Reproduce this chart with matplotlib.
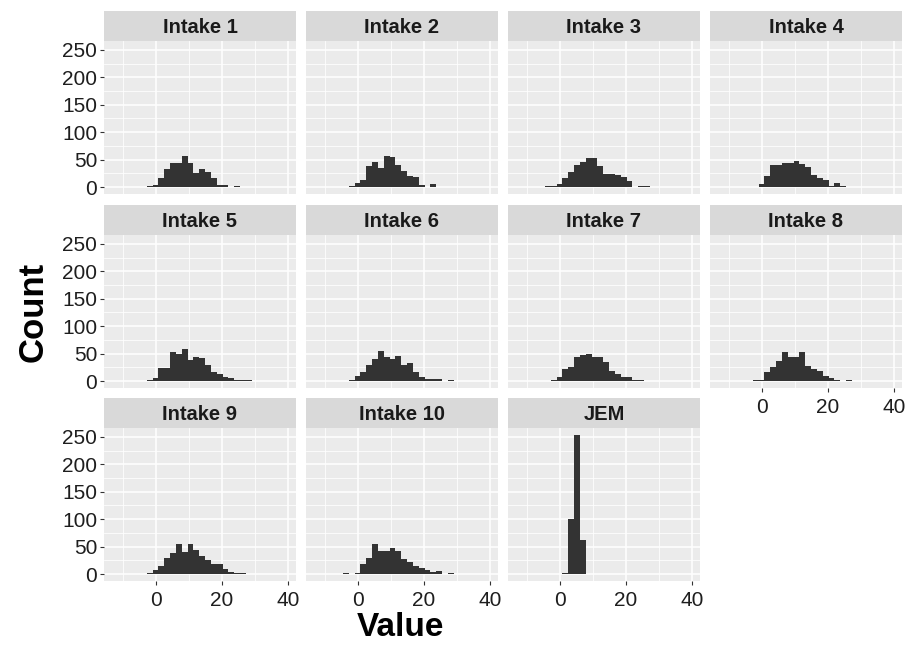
import numpy as np
import matplotlib
matplotlib.use('Agg')
import matplotlib.pyplot as plt

plt.rcParams['font.family'] = ['Liberation Sans', 'DejaVu Sans']

# histogram bins shared by every facet (30 bins over the full data range)
bin_start = -4.52
bin_width = 1.77
n_bins = 19

panel_names = ['Intake 1', 'Intake 2', 'Intake 3', 'Intake 4', 'Intake 5',
               'Intake 6', 'Intake 7', 'Intake 8', 'Intake 9', 'Intake 10', 'JEM']

intake1 = [0, 2, 3, 16, 32, 44, 44, 57, 43, 25, 33, 28, 16, 4, 4, 0, 1, 0, 0]
intake2 = [0, 1, 7, 13, 39, 45, 34, 57, 54, 40, 29, 20, 18, 4, 0, 6, 0, 0, 0]
intake3 = [1, 2, 5, 17, 28, 40, 46, 52, 52, 38, 23, 23, 22, 18, 11, 0, 1, 1, 0]
intake4 = [0, 0, 5, 20, 41, 40, 43, 44, 47, 42, 37, 21, 16, 12, 2, 8, 1, 0, 0]
intake5 = [0, 1, 6, 23, 23, 53, 50, 58, 38, 44, 42, 29, 16, 12, 8, 6, 2, 2, 2]
intake6 = [0, 2, 10, 16, 29, 41, 55, 43, 40, 46, 29, 32, 17, 7, 4, 4, 3, 0, 2]
intake7 = [0, 2, 7, 22, 26, 44, 48, 49, 43, 43, 34, 19, 12, 7, 8, 2, 2, 0, 0]
intake8 = [0, 1, 2, 16, 25, 37, 52, 44, 43, 52, 28, 22, 18, 10, 6, 2, 0, 1, 0]
intake9 = [0, 2, 8, 14, 29, 38, 54, 41, 54, 44, 32, 26, 18, 18, 10, 4, 1, 1, 0]
intake10 = [1, 0, 2, 18, 30, 55, 42, 42, 48, 42, 27, 21, 15, 11, 7, 3, 5, 0, 1]
jem = [0, 0, 0, 2, 100, 253, 62, 0, 0, 0, 0, 0, 0, 0, 0, 0, 0, 0, 0]

panel_counts = [intake1, intake2, intake3, intake4, intake5, intake6,
                intake7, intake8, intake9, intake10, jem]

x_ticks = [0, 20, 40]
y_ticks = [0, 50, 100, 150, 200, 250]

W, H = 907, 646
fig = plt.figure(figsize=(W / 100, H / 100), dpi=100)

col_left = [104, 306, 508, 710]
panel_w = 192
row_top = [41, 235, 428]
panel_h = 153
strip_h = 30

edges = bin_start + bin_width * np.arange(n_bins + 1)

for i, (name, counts) in enumerate(zip(panel_names, panel_counts)):
    r, c = divmod(i, 4)
    left = col_left[c] / W
    bottom = 1 - (row_top[r] + panel_h) / H
    ax = fig.add_axes([left, bottom, panel_w / W, panel_h / H])
    ax.set_facecolor('#EBEBEB')
    ax.bar(edges[:-1], counts, width=bin_width, align='edge',
           color='#333333', linewidth=0, zorder=3)
    ax.set_xlim(-15.7, 42.5)
    ax.set_ylim(-12.7, 266)
    ax.set_xticks(x_ticks)
    ax.set_xticks([-10, 10, 30], minor=True)
    ax.set_yticks(y_ticks)
    ax.set_yticks([25, 75, 125, 175, 225], minor=True)
    ax.grid(which='major', color='white', linewidth=1.1, zorder=0)
    ax.grid(which='minor', color='white', linewidth=0.55, zorder=0)
    for s in ax.spines.values():
        s.set_visible(False)
    ax.tick_params(which='minor', length=0)
    ax.tick_params(which='major', length=3, width=0.8, color='#333333',
                   labelsize=15, labelcolor='#1E1E1E', pad=2)
    ax.tick_params(axis='x', pad=4)

    show_x = (r == 2) or (r == 1 and c == 3)
    if not show_x:
        ax.tick_params(axis='x', length=0, labelbottom=False)
    if c != 0:
        ax.tick_params(axis='y', length=0, labelleft=False)

    # facet strip
    sax = fig.add_axes([left, 1 - row_top[r] / H, panel_w / W, strip_h / H])
    sax.set_facecolor('#D9D9D9')
    sax.set_xticks([])
    sax.set_yticks([])
    for s in sax.spines.values():
        s.set_visible(False)
    sax.text(0.5, 0.45, name, ha='center', va='center', fontsize=14.5,
             fontweight='bold', color='#1A1A1A', transform=sax.transAxes)

fig.text(33 / W, 1 - 312 / H, 'Count', rotation=90, ha='center', va='center',
         fontsize=25, fontweight='bold')
fig.text(400 / W, 1 - 628 / H, 'Value', ha='center', va='center',
         fontsize=24, fontweight='bold')

fig.savefig('out.png', dpi=100)
